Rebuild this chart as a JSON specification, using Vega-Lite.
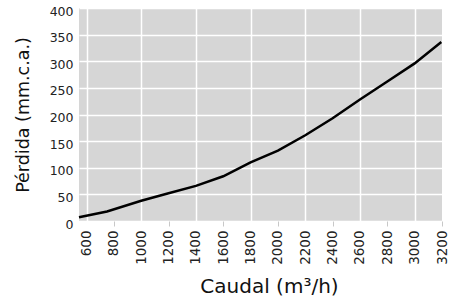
{
  "$schema": "https://vega.github.io/schema/vega-lite/v6.json",
  "width": 363,
  "height": 213,
  "autosize": {"type": "none"},
  "padding": {"left": 79, "top": 8, "right": 8, "bottom": 86},
  "background": "white",
  "config": {
    "view": {"fill": "#d6d6d6", "stroke": null},
    "font": "DejaVu Sans"
  },
  "data": {
    "values": [
      {"caudal": 545, "perdida": 7},
      {"caudal": 750, "perdida": 18},
      {"caudal": 1000, "perdida": 38},
      {"caudal": 1200, "perdida": 52},
      {"caudal": 1400, "perdida": 66},
      {"caudal": 1600, "perdida": 84},
      {"caudal": 1800, "perdida": 110},
      {"caudal": 2000, "perdida": 132},
      {"caudal": 2200, "perdida": 161},
      {"caudal": 2400, "perdida": 193},
      {"caudal": 2600, "perdida": 228},
      {"caudal": 2800, "perdida": 262},
      {"caudal": 3000, "perdida": 296},
      {"caudal": 3195, "perdida": 336}
    ]
  },
  "mark": {"type": "line", "color": "black", "strokeWidth": 2.5},
  "encoding": {
    "x": {
      "field": "caudal",
      "type": "quantitative",
      "scale": {"domain": [545, 3200], "nice": false, "zero": false},
      "axis": {
        "title": "Caudal (m³/h)",
        "values": [600, 800, 1000, 1200, 1400, 1600, 1800, 2000, 2200, 2400, 2600, 2800, 3000, 3200],
        "format": "d",
        "labelAngle": 270,
        "labelAlign": "right",
        "labelBaseline": "middle",
        "labelFontSize": 13.5,
        "labelColor": "#222",
        "labelPadding": 4,
        "labelFlush": false,
        "labelOverlap": false,
        "labelBound": false,
        "domain": false,
        "tickSize": 5,
        "tickWidth": 1,
        "tickColor": {"condition": {"test": "datum.value % 400 == 0", "value": "#c8c8c8"}, "value": "transparent"},
        "grid": true,
        "gridColor": {"condition": {"test": "datum.value % 400 == 200", "value": "white"}, "value": "transparent"},
        "gridWidth": 1.5,
        "gridOpacity": 1,
        "titleFontSize": 20,
        "titleFontWeight": "normal",
        "titleColor": "#111",
        "titleBaseline": "alphabetic",
        "titleAlign": "center",
        "titleX": 190,
        "titleY": 71
      }
    },
    "y": {
      "field": "perdida",
      "type": "quantitative",
      "scale": {"domain": [0, 400], "nice": false},
      "axis": {
        "title": "Pérdida (mm.c.a.)",
        "values": [0, 50, 100, 150, 200, 250, 300, 350, 400],
        "labelFontSize": 12.5,
        "labelColor": "#222",
        "labelPadding": 6,
        "labelOffset": 3,
        "labelFlush": false,
        "domain": false,
        "ticks": false,
        "grid": true,
        "gridColor": "white",
        "gridWidth": 1.5,
        "gridOpacity": 1,
        "titleFontSize": 17.5,
        "titleFontWeight": "normal",
        "titleColor": "#111",
        "titleBaseline": "bottom",
        "titleX": -47
      }
    }
  }
}
